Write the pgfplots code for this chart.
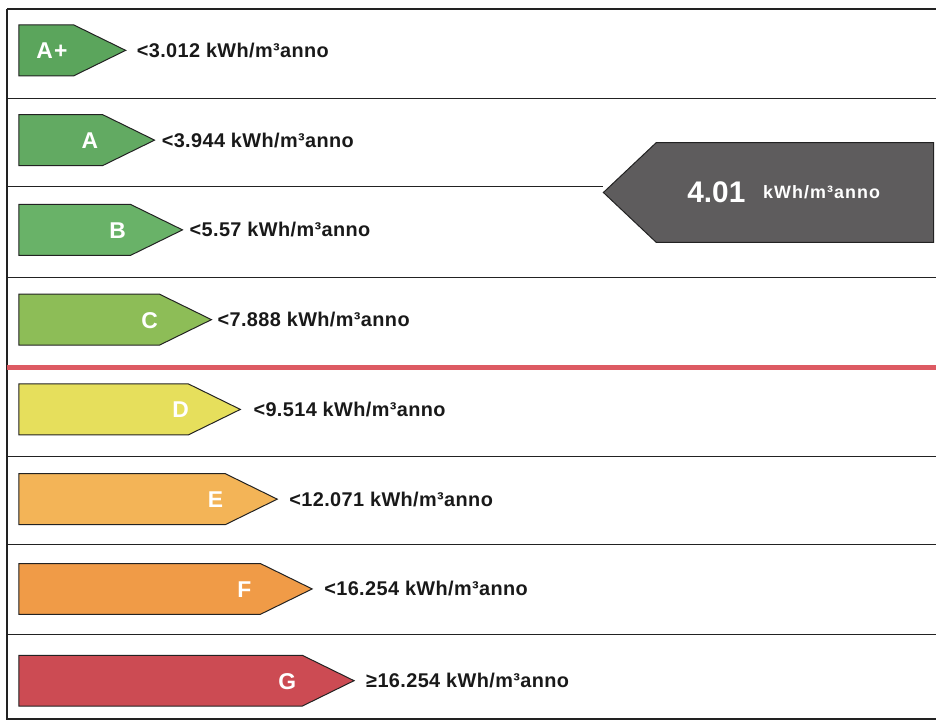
\documentclass[border=0pt]{standalone}
\usepackage{pgfplots}
\pgfplotsset{compat=1.18}
\usepackage{fontspec}
\setmainfont{Liberation Sans}
\newfontfamily\lbl[LetterSpace=2]{Liberation Sans}
\newfontfamily\unitf[LetterSpace=6]{Liberation Sans}
\newfontfamily\clsf[LetterSpace=6]{Liberation Sans}
\definecolor{cAp}{HTML}{5BA55C}
\definecolor{cA}{HTML}{62AA62}
\definecolor{cB}{HTML}{69B268}
\definecolor{cC}{HTML}{8DBD57}
\definecolor{cD}{HTML}{E6DF5C}
\definecolor{cE}{HTML}{F3B457}
\definecolor{cF}{HTML}{F09B47}
\definecolor{cG}{HTML}{CC4B53}
\definecolor{cDark}{HTML}{5E5C5D}
\definecolor{cRed}{HTML}{DD5A63}
\definecolor{cLine}{HTML}{222222}
\begin{document}
\begin{tikzpicture}
\begin{axis}[x=1bp, y=1bp, xmin=0, xmax=938, ymin=0, ymax=723, y dir=reverse,
  scale only axis, ticks=none, axis line style={draw=none}, clip=false]
% frame lines
\addplot[cLine, line width=1.4bp] coordinates {(7,9) (938,9)};
\addplot[cLine, line width=1.4bp] coordinates {(7,9) (7,722)};
\addplot[cLine, line width=1.4bp] coordinates {(7,721) (938,721)};
\addplot[cLine, line width=1.4bp] coordinates {(7,99) (938,99)};
\addplot[cLine, line width=1.4bp] coordinates {(7,187) (605,187)};
\addplot[cLine, line width=1.4bp] coordinates {(7,278) (938,278)};
\addplot[cRed, line width=5bp] coordinates {(7,368) (938,368)};
\addplot[cLine, line width=1.4bp] coordinates {(7,458) (938,458)};
\addplot[cLine, line width=1.4bp] coordinates {(7,546) (938,546)};
\addplot[cLine, line width=1.4bp] coordinates {(7,636) (938,636)};
% class arrows
\addplot[fill=cAp, draw=cLine, line width=1bp] coordinates {(19,25) (74,25) (126,50.5) (74,76) (19,76)} -- cycle;
\addplot[fill=cA, draw=cLine, line width=1bp] coordinates {(19,115) (103,115) (155,140.5) (103,166) (19,166)} -- cycle;
\addplot[fill=cB, draw=cLine, line width=1bp] coordinates {(19,205) (131,205) (183,230.5) (131,256) (19,256)} -- cycle;
\addplot[fill=cC, draw=cLine, line width=1bp] coordinates {(19,295) (160,295) (212,320.5) (160,346) (19,346)} -- cycle;
\addplot[fill=cD, draw=cLine, line width=1bp] coordinates {(19,385) (189,385) (241,410.5) (189,436) (19,436)} -- cycle;
\addplot[fill=cE, draw=cLine, line width=1bp] coordinates {(19,475) (226,475) (278,500.5) (226,526) (19,526)} -- cycle;
\addplot[fill=cF, draw=cLine, line width=1bp] coordinates {(19,565) (261,565) (313,590.5) (261,616) (19,616)} -- cycle;
\addplot[fill=cG, draw=cLine, line width=1bp] coordinates {(19,657) (303,657) (355,682.5) (303,708) (19,708)} -- cycle;
% indicator
\addplot[fill=cDark, draw=cLine, line width=1bp] coordinates {(658,143) (936,143) (936,243) (658,243) (605,193)} -- cycle;
% letters
\tikzset{cls/.style={text=white, inner sep=0pt, font=\fontsize{23}{23}\selectfont\clsf\bfseries}}
\node[cls] at (axis cs:52,51) {A+};
\node[cls] at (axis cs:90,141) {A};
\node[cls] at (axis cs:118,231) {B};
\node[cls] at (axis cs:150,321) {C};
\node[cls] at (axis cs:181,411) {D};
\node[cls] at (axis cs:216,501) {E};
\node[cls] at (axis cs:245,591) {F};
\node[cls] at (axis cs:288,683) {G};
% thresholds
\tikzset{thr/.style={anchor=west, inner sep=0pt, text=black!90, font=\fontsize{20}{20}\selectfont\lbl\bfseries}}
\node[thr] at (axis cs:137,50.5) {<3.012 kWh/m³anno};
\node[thr] at (axis cs:162,140.5) {<3.944 kWh/m³anno};
\node[thr] at (axis cs:190,230.5) {<5.57 kWh/m³anno};
\node[thr] at (axis cs:218,320.5) {<7.888 kWh/m³anno};
\node[thr] at (axis cs:254,410.5) {<9.514 kWh/m³anno};
\node[thr] at (axis cs:290,500.5) {<12.071 kWh/m³anno};
\node[thr] at (axis cs:325,590.5) {<16.254 kWh/m³anno};
\node[thr] at (axis cs:367,682.5) {≥16.254 kWh/m³anno};
% value
\node[anchor=west, inner sep=0pt, text=white, font=\fontsize{30}{30}\selectfont\bfseries] at (axis cs:689,193) {4.01};
\node[anchor=west, inner sep=0pt, text=white, font=\fontsize{18}{18}\selectfont\unitf\bfseries] at (axis cs:765,193) {kWh/m³anno};
\end{axis}
\end{tikzpicture}
\end{document}
